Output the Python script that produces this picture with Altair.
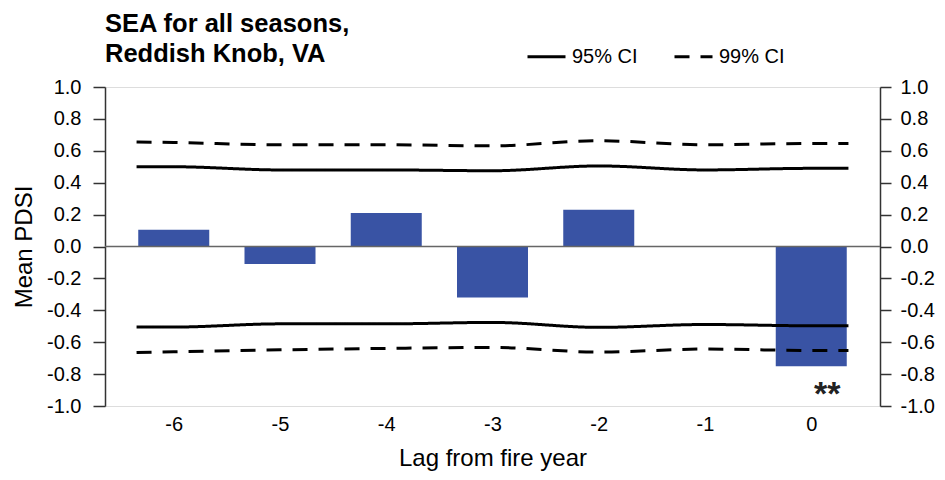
import altair as alt
import pandas as pd

FONT = "Liberation Sans"

# ---- data ----
lags = [-6, -5, -4, -3, -2, -1, 0]
mean_pdsi = [0.105, -0.11, 0.21, -0.32, 0.23, 0.0, -0.75]

ci_lag = [-6.35, -6, -5, -4, -3, -2, -1, 0, 0.35]
ci95_upper = [0.50, 0.50, 0.48, 0.48, 0.475, 0.505, 0.48, 0.49, 0.49]
ci95_lower = [-0.505, -0.505, -0.485, -0.485, -0.476, -0.507, -0.489, -0.497, -0.497]
ci99_upper = [0.655, 0.652, 0.638, 0.638, 0.631, 0.663, 0.638, 0.646, 0.646]
ci99_lower = [-0.665, -0.66, -0.648, -0.639, -0.633, -0.662, -0.643, -0.652, -0.652]

star_lag = [0]
star_y = [-0.9]
star_text = ["**"]

y_ticks = [-1.0, -0.8, -0.6, -0.4, -0.2, 0.0, 0.2, 0.4, 0.6, 0.8, 1.0]
x_ticks = lags
ci_names = ["95% CI", "99% CI"]

# ---- tables ----
bar_df = pd.DataFrame({"lag": lags, "value": mean_pdsi})
rows = []
for name, up, lo in [("95% CI", ci95_upper, ci95_lower), ("99% CI", ci99_upper, ci99_lower)]:
    for l, u, d in zip(ci_lag, up, lo):
        rows.append({"lag": l, "value": u, "ci": name, "bound": "upper"})
        rows.append({"lag": l, "value": d, "ci": name, "bound": "lower"})
ci_df = pd.DataFrame(rows)
star_df = pd.DataFrame({"lag": star_lag, "value": star_y, "txt": star_text})
zero_df = pd.DataFrame({"value": [0.0]})

yscale = alt.Scale(domain=[-1, 1], nice=False, zero=False)
xscale = alt.Scale(domain=[-6.6, 0.6], nice=False, zero=False)
minus_fix_y = "replace(format(datum.value, '.1f'), '\u2212', '-')"
minus_fix_x = "replace(format(datum.value, 'd'), '\u2212', '-')"

x_axis = alt.Axis(values=x_ticks, labelExpr=minus_fix_x, ticks=False, tickSize=0,
                  domain=False, grid=False, labelPadding=8, labelFont=FONT,
                  labelFontSize=20, labelColor="black", title="Lag from fire year",
                  titleFont=FONT, titleFontSize=24, titleFontWeight="normal",
                  titleColor="black", titlePadding=12)


def X():
    return alt.X("lag:Q", scale=xscale, axis=x_axis)


left_axis = alt.Axis(orient="left", values=y_ticks, labelExpr=minus_fix_y, tickSize=12,
                     tickWidth=1.5, tickColor="#333", domainColor="#333", domainWidth=1.5,
                     labelFont=FONT, labelFontSize=20, labelColor="black", labelPadding=12,
                     title="Mean PDSI", titleFont=FONT, titleFontSize=24,
                     titleFontWeight="normal", titleColor="black", titlePadding=10,
                     grid=False)
right_axis = alt.Axis(orient="right", values=y_ticks, labelExpr=minus_fix_y, tickSize=11,
                      tickWidth=1.5, tickColor="#333", domainColor="#333", domainWidth=1.5,
                      labelFont=FONT, labelFontSize=20, labelColor="black", labelPadding=9,
                      title=None, grid=False)

bars = alt.Chart(bar_df).mark_bar(size=71, color="#3953A4").encode(
    x=X(),
    y=alt.Y("value:Q", scale=yscale, axis=left_axis),
    y2=alt.datum(0),
)

zero = alt.Chart(zero_df).mark_rule(color="#666", strokeWidth=1.5).encode(
    y=alt.Y("value:Q", scale=yscale, axis=right_axis),
)

lines = alt.Chart(ci_df).mark_line(color="black", strokeWidth=3, interpolate="monotone").encode(
    x=X(),
    y=alt.Y("value:Q", scale=yscale, axis=None),
    strokeDash=alt.StrokeDash(
        "ci:N",
        scale=alt.Scale(domain=ci_names, range=[[1, 0], [15, 11]]),
        legend=alt.Legend(orient="none", legendX=421, legendY=-51, direction="horizontal",
                          title=None, labelFont=FONT, labelFontSize=20, labelColor="black",
                          symbolSize=1444, symbolStrokeWidth=3, symbolStrokeColor="black",
                          symbolType="stroke", columnPadding=30, labelOffset=5, padding=0),
    ),
    detail="bound:N",
)

stars = alt.Chart(star_df).mark_text(font=FONT, fontSize=34, fontWeight="bold", color="#222",
                                     dx=16, dy=5, baseline="middle").encode(
    x=X(),
    y=alt.Y("value:Q", scale=yscale, axis=None),
    text="txt:N",
)

chart = alt.layer(bars, zero, lines, stars).resolve_scale(y="independent").properties(
    width=775,
    height=319,
    padding={"left": 97, "top": 79, "right": 57, "bottom": 66},
    autosize=alt.AutoSizeParams(type="none"),
    title=alt.TitleParams(text=["SEA for all seasons,", "Reddish Knob, VA"], anchor="start",
                          frame="group", font=FONT, fontSize=25.5, fontWeight="bold",
                          color="black", lineHeight=30, offset=-31),
).configure_view(stroke="#333", strokeWidth=1.5).configure(background="white")

chart.save("out.html", embed_options={"renderer": "svg", "actions": False})
